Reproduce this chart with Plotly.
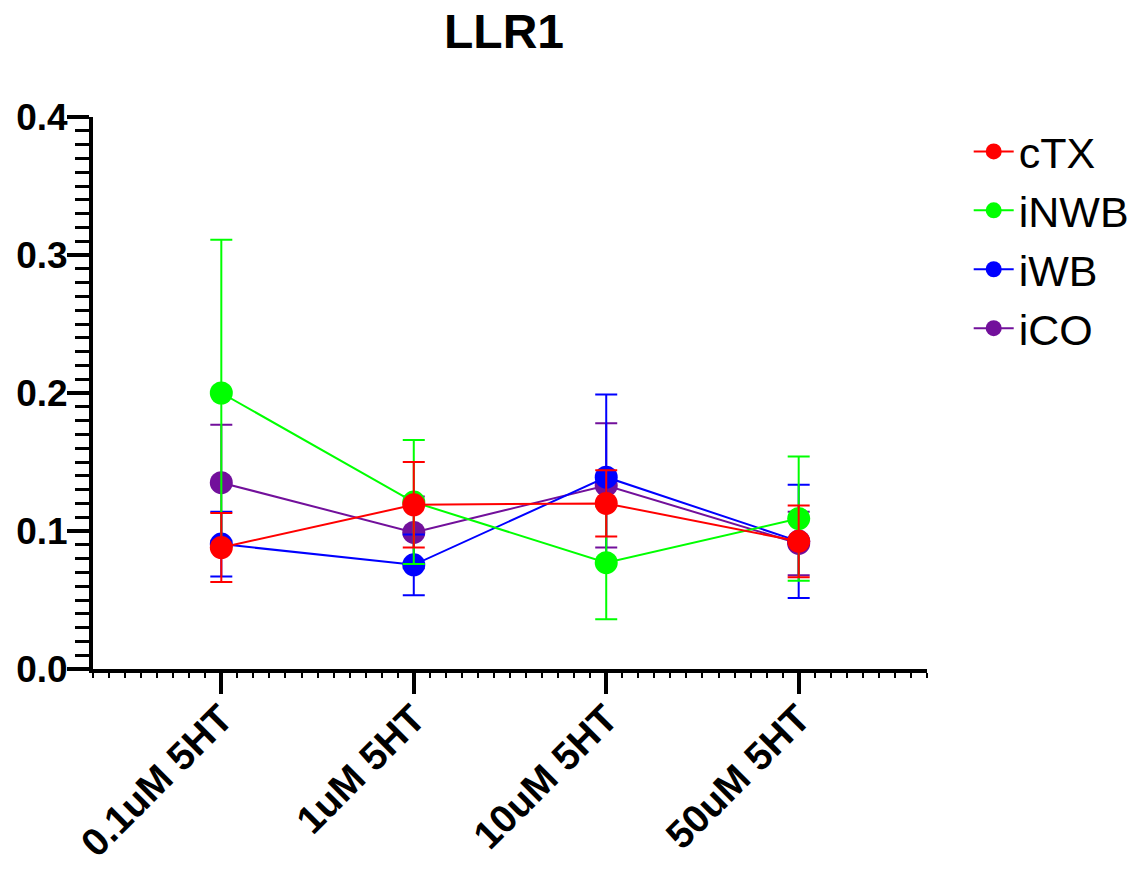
import plotly.graph_objects as go

# Treatment concentrations along the x axis
categories = ["0.1uM 5HT", "1uM 5HT", "10uM 5HT", "50uM 5HT"]

# Group means and error (SEM) per concentration
ctx_mean = [0.088, 0.119, 0.120, 0.0925]
ctx_err = [0.025, 0.031, 0.024, 0.026]

inwb_mean = [0.200, 0.121, 0.077, 0.109]
inwb_err = [0.111, 0.045, 0.041, 0.045]

iwb_mean = [0.0905, 0.0755, 0.139, 0.0925]
iwb_err = [0.0235, 0.022, 0.060, 0.041]

ico_mean = [0.135, 0.099, 0.133, 0.091]
ico_err = [0.042, 0.026, 0.045, 0.023]

y_ticks = [0.0, 0.1, 0.2, 0.3, 0.4]

FONT = "Arial, Liberation Sans, Helvetica, sans-serif"
xpos = list(range(len(categories)))

# drawn bottom -> top; legendrank keeps the legend order cTX, iNWB, iWB, iCO
groups = [
    ("iCO", ico_mean, ico_err, "#72109B", 4),
    ("iWB", iwb_mean, iwb_err, "#0000FF", 3),
    ("iNWB", inwb_mean, inwb_err, "#00FF00", 2),
    ("cTX", ctx_mean, ctx_err, "#FF0000", 1),
]

fig = go.Figure()
for name, mean, err, color, rank in groups:
    fig.add_trace(go.Scatter(
        x=xpos, y=mean, name=name, mode="lines+markers",
        line=dict(color=color, width=2),
        marker=dict(color=color, size=23, symbol="circle"),
        error_y=dict(type="data", array=err, visible=True,
                     color=color, thickness=2, width=11),
        legendrank=rank,
    ))

fig.update_layout(
    width=1142, height=871,
    paper_bgcolor="white", plot_bgcolor="white",
    margin=dict(l=93, r=215, t=117, b=202, autoexpand=False),
    font=dict(family=FONT, color="black"),
    title=dict(text="LLR1", x=0.4928, xref="paper", xanchor="center",
               y=1 - 31 / 871, yref="container", yanchor="middle",
               font=dict(family=FONT, size=48, weight="bold", color="black")),
    showlegend=True,
    legend=dict(x=1.05, xanchor="left", y=1.0, yanchor="top",
                font=dict(family=FONT, size=43, color="black"),
                itemwidth=40, bgcolor="rgba(0,0,0,0)",
                tracegroupgap=0),
    xaxis=dict(
        range=[-2 / 3, 3 + 2 / 3],
        tickmode="array", tickvals=xpos, ticktext=categories,
        tickangle=-45, automargin=False,
        tickfont=dict(family=FONT, size=39, weight="bold", color="black"),
        ticklabelstandoff=-14,
        showgrid=False, zeroline=False,
        showline=True, linecolor="black", linewidth=4,
        ticks="outside", ticklen=21, tickwidth=4, tickcolor="black",
        minor=dict(dtick=1 / 12, tick0=0, ticks="outside", ticklen=5,
                   tickwidth=2, tickcolor="black", showgrid=False),
    ),
    yaxis=dict(
        range=[0, 0.4], automargin=False,
        tickmode="array", tickvals=y_ticks, tickformat=".1f",
        tickfont=dict(family=FONT, size=37, weight="bold", color="black"),
        ticklabelstandoff=-8,
        showgrid=False, zeroline=False,
        showline=True, linecolor="black", linewidth=4,
        ticks="outside", ticklen=22, tickwidth=4, tickcolor="black",
        minor=dict(dtick=0.01, tick0=0, ticks="outside", ticklen=14,
                   tickwidth=3, tickcolor="black", showgrid=False),
    ),
)

fig.write_html("out.html")
